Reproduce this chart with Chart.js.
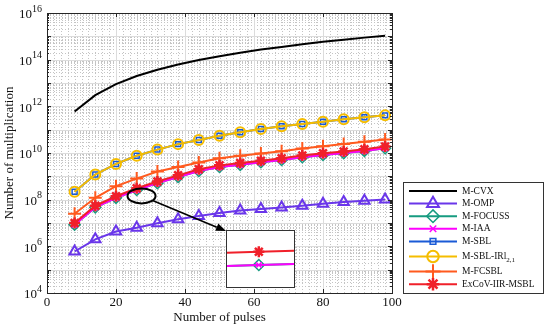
<!DOCTYPE html>
<html>
<head>
<meta charset="utf-8">
<script src="https://cdn.jsdelivr.net/npm/chart.js@4.4.0/dist/chart.umd.min.js"></script>
<style>
  html, body { margin: 0; padding: 0; background: #fff; }
  #wrap { position: relative; width: 550px; height: 331px; }
  #main { position: absolute; left: 0; top: 0; }
  #insetBox { position: absolute; left: 226px; top: 230px; width: 69px; height: 58px;
              box-sizing: border-box; border: 1px solid #333; background: #fff; }
  #inset { display: block; }
</style>
</head>
<body>
<div id="wrap">
  <canvas id="main" width="550" height="331"></canvas>
  <div id="insetBox"><canvas id="inset" width="67" height="56"></canvas></div>
</div>
<script>
// data
const pulses = [8, 14, 20, 26, 32, 38, 44, 50, 56, 62, 68, 74, 80, 86, 92, 98];
const mCVX   = [6e11, 3e12, 9e12, 2e13, 3.7e13, 6.2e13, 9.6e13, 1.4e14, 2e14, 2.7e14, 3.5e14, 4.6e14, 5.8e14, 7.2e14, 8.8e14, 1.05e15];
const mOMP   = [6e5, 2e6, 4.3e6, 6.3e6, 9.8e6, 1.45e7, 2e7, 2.7e7, 3.4e7, 4e7, 4.6e7, 5.5e7, 6.7e7, 7.9e7, 8.9e7, 1.02e8];
const mFOCUSS = [8.5e6, 4.7e7, 1.2e8, 2.6e8, 5.1e8, 9.4e8, 1.7e9, 2.5e9, 3.1e9, 4e9, 5e9, 6.6e9, 8.2e9, 9.9e9, 1.23e10, 1.6e10];
const mIAA   = [8.5e6, 4.7e7, 1.2e8, 2.6e8, 5.1e8, 9.4e8, 1.7e9, 2.5e9, 3.1e9, 4e9, 5e9, 6.6e9, 8.2e9, 9.9e9, 1.23e10, 1.6e10];
const mSBL   = [2.2e8, 1.2e9, 3.4e9, 7.6e9, 1.4e10, 2.4e10, 3.6e10, 5.5e10, 7.7e10, 1.07e11, 1.4e11, 1.75e11, 2.2e11, 2.8e11, 3.4e11, 4.1e11];
const mSBLIR = [2.2e8, 1.2e9, 3.4e9, 7.6e9, 1.4e10, 2.4e10, 3.6e10, 5.5e10, 7.7e10, 1.07e11, 1.4e11, 1.75e11, 2.2e11, 2.8e11, 3.4e11, 4.1e11];
const mFCSBL = [2.5e7, 1.2e8, 3.8e8, 8e8, 1.6e9, 2.5e9, 3.9e9, 6e9, 7.6e9, 9.6e9, 1.2e10, 1.55e10, 1.95e10, 2.45e10, 3.05e10, 3.8e10];
const exCoV  = [1e7, 5.5e7, 1.4e8, 3.1e8, 6e8, 1.1e9, 2e9, 2.95e9, 3.7e9, 4.7e9, 5.9e9, 7.8e9, 9.7e9, 1.17e10, 1.45e10, 1.9e10];

const seriesNames = ['M-CVX', 'M-OMP', 'M-FOCUSS', 'M-IAA', 'M-SBL', 'M-SBL-IRl', 'M-FCSBL', 'ExCoV-IIR-MSBL'];
const seriesData = [mCVX, mOMP, mFOCUSS, mIAA, mSBL, mSBLIR, mFCSBL, exCoV];
const xTicks = [0, 20, 40, 60, 80, 100];
const yTickExp = [4, 6, 8, 10, 12, 14, 16];

const styles = [
  { color: '#000000', pointStyle: false,      radius: 0,   width: 2 },
  { color: '#6a36ea', pointStyle: 'triangle', radius: 6,   width: 2 },
  { color: '#169b80', pointStyle: 'rectRot',  radius: 5.5, width: 1.5 },
  { color: '#ff00ff', pointStyle: 'crossRot', radius: 4,   width: 1.5 },
  { color: '#1a5ad6', pointStyle: 'rect',     radius: 3.5, width: 1.5 },
  { color: '#f5bd00', pointStyle: 'circle',   radius: 5,   width: 2 },
  { color: '#ff5a1e', pointStyle: 'cross',    radius: 6.5, width: 2 },
  { color: '#f0202a', pointStyle: 'star',     radius: 5.5, width: 2.5 }
];

const SERIF = '"Liberation Serif", "Times New Roman", serif';

function makeDataset(i) {
  const s = styles[i];
  return {
    label: seriesNames[i],
    data: pulses.map((p, k) => ({ x: p, y: seriesData[i][k] })),
    borderColor: s.color,
    backgroundColor: s.color,
    borderWidth: 2,
    pointStyle: s.pointStyle,
    pointRadius: s.radius,
    pointBorderWidth: s.width,
    pointBorderColor: s.color,
    pointBackgroundColor: 'rgba(0,0,0,0)',
    order: seriesNames.length - 1 - i
  };
}

function drawMarker(ctx, s, x, y, scale) {
  if (!s.pointStyle || !Chart.helpers || !Chart.helpers.drawPoint) return;
  ctx.save();
  ctx.strokeStyle = s.color;
  ctx.fillStyle = 'rgba(0,0,0,0)';
  ctx.lineWidth = s.width;
  Chart.helpers.drawPoint(ctx, { pointStyle: s.pointStyle, radius: s.radius * scale, rotation: 0, borderWidth: s.width }, x, y);
  ctx.restore();
}

const framePlugin = {
  id: 'frame',
  beforeDatasetsDraw(chart) {
    const { ctx, chartArea: a, scales: { x, y } } = chart;
    ctx.save();
    ctx.lineWidth = 1;
    // minor grid (dotted)
    ctx.strokeStyle = '#c4c4c4';
    ctx.setLineDash([1, 2]);
    ctx.beginPath();
    for (let v = 2; v < 100; v += 2) {
      if (v % 20 === 0) continue;
      const px = Math.round(x.getPixelForValue(v)) + 0.5;
      ctx.moveTo(px, a.top); ctx.lineTo(px, a.bottom);
    }
    for (let e = 4; e < 16; e++) {
      for (let m = 2; m <= 9; m++) {
        const py = Math.round(y.getPixelForValue(m * Math.pow(10, e))) + 0.5;
        ctx.moveTo(a.left, py); ctx.lineTo(a.right, py);
      }
    }
    ctx.stroke();
    // major grid
    ctx.setLineDash([]);
    ctx.strokeStyle = '#dcdcdc';
    ctx.beginPath();
    xTicks.slice(1, -1).forEach(v => {
      const px = Math.round(x.getPixelForValue(v)) + 0.5;
      ctx.moveTo(px, a.top); ctx.lineTo(px, a.bottom);
    });
    for (let e = 5; e < 16; e++) {
      const py = Math.round(y.getPixelForValue(Math.pow(10, e))) + 0.5;
      ctx.moveTo(a.left, py); ctx.lineTo(a.right, py);
    }
    ctx.stroke();
    ctx.restore();
  },
  afterDatasetsDraw(chart) {
    const { ctx, chartArea: a, scales: { x, y } } = chart;
    ctx.save();
    // annotation ellipse + arrow to inset
    const cx = x.getPixelForValue(27.4), cy = y.getPixelForValue(1.45e8);
    const rx = 14, ry = 7.5;
    ctx.strokeStyle = '#000';
    ctx.lineWidth = 2;
    ctx.beginPath();
    ctx.ellipse(cx, cy, rx, ry, 0, 0, Math.PI * 2);
    ctx.stroke();
    const box = document.getElementById('insetBox');
    const tx = box.offsetLeft, ty = box.offsetTop + 1;
    const ang = Math.atan2(ty - cy, tx - cx);
    const t = Math.atan2(Math.sin(ang) / ry, Math.cos(ang) / rx);
    const sx = cx + rx * Math.cos(t), sy = cy + ry * Math.sin(t);
    const hl = 10, hw = 4;
    const bx = tx - hl * Math.cos(ang), by = ty - hl * Math.sin(ang);
    ctx.lineWidth = 1.6;
    ctx.beginPath();
    ctx.moveTo(sx, sy); ctx.lineTo(bx, by);
    ctx.stroke();
    ctx.fillStyle = '#000';
    ctx.beginPath();
    ctx.moveTo(tx, ty);
    ctx.lineTo(bx + hw * Math.sin(ang), by - hw * Math.cos(ang));
    ctx.lineTo(bx - hw * Math.sin(ang), by + hw * Math.cos(ang));
    ctx.closePath();
    ctx.fill();

    // axes box
    ctx.strokeStyle = '#262626';
    ctx.lineWidth = 1;
    ctx.strokeRect(Math.round(a.left) + 0.5, Math.round(a.top) + 0.5, Math.round(a.right - a.left), Math.round(a.bottom - a.top));
    // inward ticks
    ctx.beginPath();
    xTicks.forEach(v => {
      const px = Math.round(x.getPixelForValue(v)) + 0.5;
      ctx.moveTo(px, a.bottom); ctx.lineTo(px, a.bottom - 4);
      ctx.moveTo(px, a.top); ctx.lineTo(px, a.top + 4);
    });
    for (let e = 4; e <= 16; e++) {
      const py = Math.round(y.getPixelForValue(Math.pow(10, e))) + 0.5;
      ctx.moveTo(a.left, py); ctx.lineTo(a.left + 4, py);
      ctx.moveTo(a.right, py); ctx.lineTo(a.right - 4, py);
      if (e === 16) continue;
      for (let m = 2; m <= 9; m++) {
        const pm = Math.round(y.getPixelForValue(m * Math.pow(10, e))) + 0.5;
        ctx.moveTo(a.left, pm); ctx.lineTo(a.left + 2, pm);
        ctx.moveTo(a.right, pm); ctx.lineTo(a.right - 2, pm);
      }
    }
    ctx.stroke();

    // tick labels
    ctx.fillStyle = '#111';
    ctx.textBaseline = 'middle';
    ctx.textAlign = 'center';
    ctx.font = '13px ' + SERIF;
    xTicks.forEach(v => ctx.fillText(String(v), x.getPixelForValue(v), a.bottom + 10));
    ctx.textAlign = 'left';
    yTickExp.forEach(e => {
      const py = y.getPixelForValue(Math.pow(10, e));
      ctx.font = '10px ' + SERIF;
      const sw = ctx.measureText(String(e)).width;
      ctx.font = '13px ' + SERIF;
      const bw = ctx.measureText('10').width;
      const right = 42;
      ctx.fillText('10', right - sw - bw, py + 2);
      ctx.font = '10px ' + SERIF;
      ctx.fillText(String(e), right - sw, py - 4);
    });

    // axis titles
    ctx.font = '13px ' + SERIF;
    ctx.textAlign = 'center';
    ctx.fillText('Number of pulses', (a.left + a.right) / 2, a.bottom + 25);
    ctx.translate(10, (a.top + a.bottom) / 2);
    ctx.rotate(-Math.PI / 2);
    ctx.fillText('Number of multiplication', 0, 0);
    ctx.restore();

    // legend
    ctx.save();
    const lx = 403, ly = 182, lw = 140, lh = 111;
    ctx.fillStyle = '#fff';
    ctx.fillRect(lx, ly, lw, lh);
    ctx.strokeStyle = '#333';
    ctx.lineWidth = 1;
    ctx.strokeRect(lx + 0.5, ly + 0.5, lw, lh);
    seriesNames.forEach((name, i) => {
      const s = styles[i];
      const ry2 = 191 + i * 12.6 + (i >= 5 ? 2.5 : 0) + (i >= 6 ? 2.5 : 0);
      ctx.strokeStyle = s.color;
      ctx.lineWidth = 2;
      ctx.beginPath();
      ctx.moveTo(409, ry2); ctx.lineTo(457, ry2);
      ctx.stroke();
      drawMarker(ctx, s, 433, ry2, 1.15);
      ctx.fillStyle = '#111';
      ctx.textAlign = 'left';
      ctx.textBaseline = 'middle';
      ctx.font = '9.5px ' + SERIF;
      ctx.fillText(name, 462, ry2);
      if (name === 'M-SBL-IRl') {
        const w = ctx.measureText(name).width;
        ctx.font = '7px ' + SERIF;
        ctx.fillText('2,1', 462 + w, ry2 + 4);
      }
    });
    ctx.restore();
  }
};

new Chart(document.getElementById('main'), {
  type: 'line',
  data: { datasets: seriesNames.map((n, i) => makeDataset(i)) },
  options: {
    responsive: false,
    animation: false,
    layout: { autoPadding: false, padding: { left: 47, top: 13, right: 158, bottom: 38 } },
    scales: {
      x: { type: 'linear', min: 0, max: 100, display: false },
      y: { type: 'logarithmic', min: 1e4, max: 1e16, display: false }
    },
    plugins: { legend: { display: false }, tooltip: { enabled: false } }
  },
  plugins: [framePlugin]
});

// zoomed inset around 26 pulses
const k26 = pulses.indexOf(26);
const decPerPx = (Math.log10(exCoV[k26]) - Math.log10(mIAA[k26])) / 13.3;
const insetTop = Math.log10(exCoV[k26]) + 20.7 * decPerPx;
const insetBottom = insetTop - 56 * decPerPx;

new Chart(document.getElementById('inset'), {
  type: 'line',
  data: { datasets: [makeDataset(7), makeDataset(3), makeDataset(2)].map((d, i) => Object.assign(d, { order: i })) },
  options: {
    responsive: false,
    animation: false,
    layout: { autoPadding: false, padding: 0 },
    scales: {
      x: { type: 'linear', min: 25.905, max: 26.105, display: false },
      y: { type: 'logarithmic', min: Math.pow(10, insetBottom), max: Math.pow(10, insetTop), display: false }
    },
    plugins: { legend: { display: false }, tooltip: { enabled: false } }
  }
});
</script>
</body>
</html>
